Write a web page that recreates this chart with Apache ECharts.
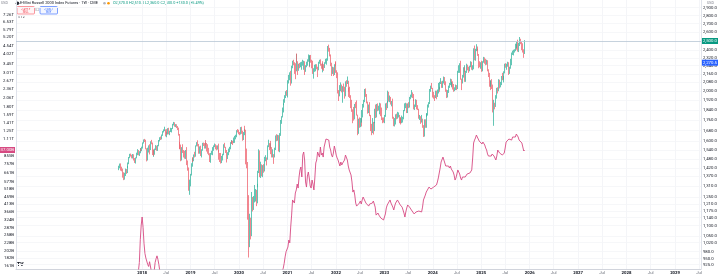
<!DOCTYPE html>
<html><head><meta charset="utf-8">
<script src="https://cdn.jsdelivr.net/npm/echarts@6/dist/echarts.min.js"></script>
<style>html,body{margin:0;padding:0;background:#fff}#c{width:720px;height:276px}</style>
</head><body><div id="c"></div>
<script>
// ---- DATA ----
// First weekly bar: week starting Monday 2017-07-10 (one bar per week, 438 bars to 2025-11-24)
const firstWeek = [2017, 6, 10];
const symbolTitle = 'E-Mini Russell 2000 Index Futures · 1W · CME';
const unitLabel = 'USD';
// weekly OHLC (RTY, USD)
const weekOpen = [
1418,1425,1435,1416,1415,1373,1357,1378,1413,1394,1429,1450,1490,1510,1502,1498,1499,1477,1468,1486,1519,1533,1516,1520,1548,
1535,1560,1590,1608,1607,1547,1478,1543,1567,1544,1599,1586,1510,1529,1513,1543,1565,1557,1572,1605,1627,1626,1647,1672,1683,1685,1643,1665,1658,1690,1664,1672,1683,1693,1725,1740,1717,1721,1707,1697,1649,1572,1569,1481,1546,1528,1527,1488,1533,1447,1411,1292,
1337,1380,1447,1482,1481,1503,1497,1569,1590,1578,1522,1560,1505,1540,1585,1581,1556,1588,1587,1565,1536,1510,1466,1514,1518,1551,1567,1575,1561,1548,1567,1533,1496,1480,1459,1495,1506,1578,1559,1524,1500,1512,1535,1558,1590,1598,1597,1591,1624,1632,1636,1678,
1677,1659,1657,1700,1662,1614,1656,1687,1679,1476,1449,1210,1014,1131,1052,1247,1223,1233,1261,1287,1218,1316,1394,1531,1387,1420,1377,1428,1404,1474,1486,1480,1568,1581,1555,1575,1537,1497,1506,1492,1547,1640,1619,1638,1538,1644,1757,1784,1856,1892,1911,1960,
1996,1975,2091,2124,2168,2073,2233,2281,2266,2201,2192,2352,2275,2221,2254,2243,2263,2265,2266,2271,2219,2235,2268,2286,2334,2238,2345,2280,2279,2163,2209,2226,2236,2213,2197,2277,2292,2249,2237,2248,2241,2233,2265,2292,2297,2437,2419,2343,2245,2163,2211,2185,2249,
2245,2180,2162,1988,1963,2003,2035,1995,2035,2010,1979,2086,2077,2091,2006,1955,1943,1864,1839,1792,1773,1887,1883,1800,1665,1765,1728,1770,1742,1806,1885,1921,2016,1957,1899,1823,1882,1798,1679,1665,1701,1683,1742,1846,1790,1882,1849,1869,1893,1797,1766,1765,
1761,1792,1887,1868,1911,1985,1918,1947,1890,1910,1773,1725,1735,1802,1788,1790,1796,1768,1757,1740,1773,1774,1831,1891,1893,1821,1889,1865,1945,1956,1981,1958,1924,1852,1869,1922,1851,1846,1776,1785,1745,1757,1707,1636,1760,1705,1797,1807,1880,1897,2010,2032,
2027,1951,1950,1947,1985,1962,2008,2032,2017,2077,2084,2039,2072,2125,2062,2004,1947,1995,2036,2060,2096,2070,2071,2023,2006,2023,2048,2026,2184,2185,2260,2109,2085,2142,2218,2219,2092,2182,2228,2225,2213,2234,2276,2208,2210,2399,2303,2406,2434,2409,2347,2243,
2241,2268,2190,2275,2307,2287,2279,2280,2195,2163,2073,2045,2057,2023,1827,1881,1880,1957,2020,2006,2103,2040,2067,2132,2109,2110,2173,2250,2234,2241,2261,2166,2218,2278,2362,2366,2391,2398,2448,2434,2476,2394,2452,2513,2479,2432,2388,2370
];
const weekHigh = [
1436,1450,1451,1430,1418,1395,1392,1418,1415,1434,1457,1493,1514,1516,1508,1513,1511,1486,1490,1522,1546,1540,1532,1553,1552,
1563,1593,1614,1618,1612,1552,1556,1572,1580,1601,1611,1592,1540,1545,1550,1574,1570,1575,1610,1630,1635,1650,1675,1688,1708,1688,1669,1690,1697,1700,1678,1700,1698,1730,1745,1742,1728,1727,1713,1701,1654,1597,1578,1560,1580,1540,1535,1540,1560,1470,1425,1350,
1385,1452,1485,1492,1510,1528,1572,1595,1608,1582,1565,1570,1545,1590,1592,1588,1593,1610,1589,1580,1555,1518,1520,1535,1560,1572,1585,1580,1572,1572,1584,1540,1520,1520,1500,1515,1580,1590,1562,1540,1525,1550,1562,1595,1610,1605,1605,1628,1640,1648,1682,1690,
1685,1668,1705,1708,1678,1668,1692,1715,1685,1550,1460,1260,1160,1140,1278,1250,1255,1318,1295,1290,1325,1404,1545,1537,1462,1445,1440,1446,1494,1505,1490,1572,1612,1588,1587,1604,1560,1545,1512,1556,1643,1652,1648,1645,1660,1760,1790,1860,1895,1930,1965,2000,
2010,2100,2150,2175,2190,2240,2290,2300,2275,2265,2360,2365,2285,2260,2268,2275,2280,2300,2290,2285,2245,2280,2305,2355,2340,2350,2350,2300,2290,2215,2250,2255,2255,2230,2280,2300,2305,2260,2265,2285,2255,2275,2310,2315,2445,2460,2425,2355,2270,2230,2225,2255,2275,
2285,2195,2175,2010,2055,2080,2060,2045,2070,2040,2090,2100,2135,2095,2030,2040,1965,1925,1845,1865,1890,1905,1920,1802,1770,1780,1775,1775,1840,1890,1925,2020,2025,1975,1910,1885,1905,1800,1730,1775,1745,1745,1850,1885,1890,1895,1875,1900,1895,1860,1780,1780,
1800,1895,1900,1915,2005,1995,1962,1950,1915,1935,1785,1775,1805,1810,1825,1820,1800,1780,1780,1795,1785,1840,1895,1900,1895,1895,1905,1950,1970,2010,1990,1975,1930,1885,1930,1925,1880,1850,1800,1790,1800,1770,1720,1765,1765,1810,1815,1885,1905,2020,2050,2075,
2030,1995,1965,2005,2005,2015,2075,2040,2085,2120,2090,2095,2135,2130,2090,2015,2010,2050,2075,2115,2110,2085,2090,2065,2035,2060,2055,2190,2245,2265,2290,2115,2150,2225,2245,2225,2190,2260,2250,2230,2240,2285,2280,2245,2420,2450,2415,2465,2440,2415,2360,2285,
2275,2290,2285,2330,2325,2310,2300,2295,2205,2170,2095,2100,2110,2060,1925,1900,1965,2030,2035,2110,2105,2085,2140,2170,2140,2185,2260,2265,2260,2280,2275,2230,2310,2375,2395,2405,2410,2470,2465,2490,2515,2480,2545,2525,2490,2475,2410,2510
];
const weekLow = [
1408,1420,1405,1401,1362,1347,1350,1372,1385,1390,1422,1446,1485,1496,1484,1483,1470,1454,1450,1484,1505,1504,1500,1518,1532,
1532,1550,1585,1596,1545,1464,1470,1523,1510,1540,1580,1506,1494,1500,1508,1540,1535,1534,1566,1600,1610,1614,1640,1665,1675,1636,1630,1650,1650,1651,1645,1668,1665,1690,1718,1708,1705,1698,1683,1642,1545,1548,1465,1470,1520,1490,1482,1480,1440,1405,1285,1262,
1310,1375,1430,1460,1465,1490,1495,1565,1565,1515,1515,1500,1490,1535,1568,1550,1550,1570,1530,1515,1505,1460,1455,1508,1505,1535,1560,1545,1538,1543,1525,1475,1460,1450,1453,1470,1505,1555,1520,1457,1480,1505,1525,1545,1585,1582,1575,1588,1590,1615,1630,1665,
1652,1645,1650,1655,1605,1610,1645,1672,1445,1420,1130,955,1000,1035,1050,1172,1180,1220,1225,1200,1215,1305,1390,1365,1360,1370,1365,1392,1400,1465,1438,1475,1560,1540,1550,1512,1490,1490,1448,1490,1540,1602,1605,1530,1525,1640,1730,1780,1820,1880,1900,1940,
1960,1945,2070,2100,2050,2070,2215,2245,2160,2110,2185,2270,2150,2190,2215,2225,2200,2240,2200,2150,2180,2225,2240,2280,2225,2235,2270,2215,2160,2115,2180,2185,2205,2130,2195,2260,2240,2210,2175,2200,2190,2218,2260,2250,2290,2385,2335,2235,2140,2160,2140,2150,2235,
2170,2120,1980,1915,1955,2000,1990,1900,1995,1935,1955,2040,2065,1995,1950,1940,1855,1825,1735,1755,1765,1855,1795,1645,1655,1700,1705,1710,1740,1780,1860,1905,1950,1895,1810,1815,1790,1675,1645,1660,1650,1675,1735,1775,1780,1830,1835,1805,1790,1760,1735,1740,
1735,1785,1840,1855,1900,1910,1905,1885,1870,1770,1712,1710,1725,1765,1770,1780,1735,1725,1735,1735,1740,1765,1830,1855,1815,1815,1855,1860,1930,1945,1940,1915,1845,1840,1865,1845,1840,1770,1760,1730,1740,1700,1632,1635,1700,1700,1785,1795,1860,1890,1995,2020,
1945,1935,1915,1940,1930,1950,1980,1995,2015,2065,2030,2030,2070,2055,1995,1940,1945,1985,2030,2055,2045,2035,2015,1995,2000,2010,2010,2020,2170,2170,2105,2010,2070,2125,2180,2085,2085,2170,2195,2170,2185,2225,2200,2195,2205,2295,2290,2390,2395,2340,2215,2225,
2210,2180,2185,2270,2260,2245,2250,2185,2130,2040,2010,2040,2020,1820,1715,1845,1865,1935,1980,2000,2025,2035,2055,2100,2080,2105,2165,2220,2200,2230,2150,2160,2210,2245,2350,2345,2375,2390,2405,2420,2385,2380,2445,2465,2400,2375,2320,2360
];
const weekClose = [
1425,1435,1416,1415,1373,1357,1378,1413,1394,1429,1450,1490,1510,1502,1498,1499,1477,1468,1486,1519,1533,1516,1520,1548,1535,
1560,1590,1608,1607,1547,1478,1543,1567,1544,1599,1586,1510,1529,1513,1543,1565,1557,1572,1605,1627,1626,1647,1672,1683,1685,1643,1665,1658,1690,1664,1672,1683,1693,1725,1740,1717,1721,1707,1697,1649,1572,1569,1481,1546,1528,1527,1488,1533,1447,1411,1292,1337,
1380,1447,1482,1481,1503,1497,1569,1590,1578,1522,1560,1505,1540,1585,1581,1556,1588,1587,1565,1536,1510,1466,1514,1518,1551,1567,1575,1561,1548,1567,1533,1496,1480,1459,1495,1506,1578,1559,1524,1500,1512,1535,1558,1590,1598,1597,1591,1624,1632,1636,1678,1677,
1659,1657,1700,1662,1614,1656,1687,1679,1476,1449,1210,1014,1131,1052,1247,1223,1233,1261,1287,1218,1316,1394,1531,1387,1420,1377,1428,1404,1474,1486,1480,1568,1581,1555,1575,1537,1497,1506,1492,1547,1640,1619,1638,1538,1644,1757,1784,1856,1892,1911,1960,1996,
1975,2091,2124,2168,2073,2233,2281,2266,2201,2192,2352,2275,2221,2254,2243,2263,2265,2266,2271,2219,2235,2268,2286,2334,2238,2345,2280,2279,2163,2209,2226,2236,2213,2197,2277,2292,2249,2237,2248,2241,2233,2265,2292,2297,2437,2419,2343,2245,2163,2211,2185,2249,2245,
2180,2162,1988,1963,2003,2035,1995,2035,2010,1979,2086,2077,2091,2006,1955,1943,1864,1839,1792,1773,1887,1883,1800,1665,1765,1728,1770,1742,1806,1885,1921,2016,1957,1899,1823,1882,1798,1679,1665,1701,1683,1742,1846,1790,1882,1849,1869,1893,1797,1766,1765,1761,
1792,1887,1868,1911,1985,1918,1947,1890,1910,1773,1725,1735,1802,1788,1790,1796,1768,1757,1740,1773,1774,1831,1891,1893,1821,1889,1865,1945,1956,1981,1958,1924,1852,1869,1922,1851,1846,1776,1785,1745,1757,1707,1636,1760,1705,1797,1807,1880,1897,2010,2032,2027,
1951,1950,1947,1985,1962,2008,2032,2017,2077,2084,2039,2072,2125,2062,2004,1947,1995,2036,2060,2096,2070,2071,2023,2006,2023,2048,2026,2184,2185,2260,2109,2085,2142,2218,2219,2092,2182,2228,2225,2213,2234,2276,2208,2210,2399,2303,2406,2434,2409,2347,2243,2241,
2268,2190,2275,2307,2287,2279,2280,2195,2163,2073,2045,2057,2023,1827,1881,1880,1957,2020,2006,2103,2040,2067,2132,2109,2110,2173,2250,2234,2241,2261,2166,2218,2278,2362,2366,2391,2398,2448,2434,2476,2394,2452,2513,2479,2432,2388,2370,2500
];
// overlay symbol (pink line, left scale), billions USD, same weeks
const overlayValue = [
40,45,44,48,58,70,72,78,70,62,62,70,72,80,95,98,118,110,135,145,140,150,170,240,300,
339,290,228,195,182,186,165,160,172,168,148,140,135,150,170,180,188,178,165,150,140,128,122,115,108,105,110,118,125,130,122,112,105,108,110,112,106,110,112,113,112,111,110,109,95,80,70,68,60,58,65,68,
65,62,63,62,62,64,68,72,70,70,71,72,73,85,90,92,93,102,115,135,140,145,138,140,148,140,135,140,120,125,120,130,125,118,115,118,115,112,95,95,98,100,110,105,98,90,85,88,90,88,83,85,
90,100,102,100,110,115,118,115,110,95,70,75,80,80,88,90,95,105,112,110,112,115,118,115,112,112,112,112,118,125,130,140,138,135,135,130,128,126,125,128,130,134,136,138,140,145,148,150,156,168,185,200,
205,215,239,229,291,349,439,452,419,488,511,559,526,622,692,724,622,868,909,805,577,534,631,671,613,543,526,594,559,511,613,769,805,909,937,842,980,868,895,842,980,1042,1107,1090,1124,1090,980,937,868,842,895,995,937,
868,830,805,769,735,781,746,769,757,805,868,855,805,735,692,713,641,577,495,511,473,419,400,389,394,419,432,413,439,459,473,452,419,407,419,400,413,419,407,419,432,413,394,349,344,360,349,339,334,344,329,324,
324,355,389,407,413,419,439,419,419,394,377,400,419,426,439,445,426,407,407,394,383,360,339,366,389,407,400,394,389,377,371,366,355,360,366,366,360,371,377,371,366,394,439,445,473,495,488,503,534,526,518,526,
526,534,543,534,551,577,613,631,713,781,805,842,830,769,735,724,757,735,713,735,702,692,671,641,594,613,651,692,692,651,613,594,622,631,641,622,631,651,671,651,661,661,692,830,1042,1090,1124,1176,1212,1141,1074,1042,
1074,1026,1058,1074,1011,966,937,882,855,842,868,855,882,895,855,830,805,855,937,923,895,909,882,868,868,895,966,1058,1090,1074,1107,1107,1124,1090,1141,1158,1176,1141,1194,1212,1141,1090,1107,1074,1042,980,923,937
];
// axis ticks
const timeTickYears = [2018,2019,2020,2021,2022,2023,2024,2025,2026,2027,2028,2029];
const priceTicks = [2900,2800,2700,2600,2400,2320,2240,2160,2080,2000,1920,1840,1760,1680,1600,1540,1480,1420,1370,1310,1250,1210,1175,1140,1100,1050,1020,980,950,925];
const overlayTicks = [7265,6533,5787,5203,4539,4020,3454,3013,2669,2364,2062,1799,1593,1411,1250,1107,855,757,661,577,518,459,413,366,324,287,258,228,202,182,161];
const priceRange = [907.5, 3000];
const overlayRange = [154, 9128];
const timeRange = [[2015, 4, 26], [2029, 6, 15]];
const refLevel = 2270.5;
const sellPrice = '2,499.9', buyPrice = '2,500.1', spread = '0.2';
const indicatorsCount = '12';

// ---- BUILD ----
const DAY = 86400000;
const t0 = Date.UTC(firstWeek[0], firstWeek[1], firstWeek[2]);
const times = weekClose.map((_, i) => t0 + i * 7 * DAY);
const candles = times.map((t, i) => [t, weekOpen[i], weekClose[i], weekLow[i], weekHigh[i]]);
const overlay = times.map((t, i) => [t, overlayValue[i]]);
const xTicks = [];
timeTickYears.forEach(y => { xTicks.push(Date.UTC(y, 0, 1)); xTicks.push(Date.UTC(y, 6, 1)); });

const fmtPrice = v => v.toLocaleString('en-US', {minimumFractionDigits: 1, maximumFractionDigits: 1});
const fmtBig = v => v >= 1000 ? (v / 1000).toFixed(2) + 'T' : Math.round(v) + 'B';
const n = weekClose.length;
const lastO = weekOpen[n-1], lastH = weekHigh[n-1], lastL = weekLow[n-1], lastC = weekClose[n-1];
const chg = lastC - lastO;
const ohlcText = 'O' + fmtPrice(lastO) + ' H' + fmtPrice(lastH) + ' L' + fmtPrice(lastL) + ' C' + fmtPrice(lastC) +
  ' +' + fmtPrice(chg) + ' (+' + (chg / lastO * 100).toFixed(2) + '%)';
const lastOverlay = overlayValue[overlayValue.length - 1];

const FONT = 'Roboto, "Noto Sans", sans-serif';
const UP = '#30b39c', DOWN = '#ee5f6b', PINK = '#d74a82';
const HIDDEN = 'rgba(0,0,0,0)';
const small = 4.3;

const chart = echarts.init(document.getElementById('c'));
chart.setOption({
  animation: false,
  backgroundColor: '#ffffff',
  textStyle: {fontFamily: FONT},
  grid: {left: 16, right: 14, top: 0, bottom: 7, containLabel: false},
  xAxis: {
    type: 'value', scale: true,
    min: Date.UTC.apply(null, timeRange[0]), max: Date.UTC.apply(null, timeRange[1]),
    axisLine: {show: true, lineStyle: {color: '#d1d4dc', width: 1}},
    axisTick: {show: false, customValues: xTicks},
    splitLine: {show: true, lineStyle: {color: '#f4f5f8', width: 1}},
    axisLabel: {
      customValues: xTicks, margin: 2, fontSize: small, color: '#6a6d78', fontFamily: FONT,
      formatter: v => { const d = new Date(v); return d.getUTCMonth() === 0 ? '{y|' + d.getUTCFullYear() + '}' : 'Jul'; },
      rich: {y: {fontSize: small, fontWeight: 'bold', color: '#131722', fontFamily: FONT}}
    }
  },
  yAxis: [
    {
      type: 'log', position: 'right', min: priceRange[0], max: priceRange[1],
      axisLine: {show: true, lineStyle: {color: '#e0e3eb'}},
      axisTick: {show: false, customValues: priceTicks},
      splitLine: {show: true, lineStyle: {color: '#f6f7f9', width: 1}},
      axisLabel: {customValues: priceTicks, formatter: v => fmtPrice(v), fontSize: small, color: '#131722', margin: 2, fontFamily: FONT}
    },
    {
      type: 'log', position: 'left', min: overlayRange[0], max: overlayRange[1],
      axisLine: {show: true, lineStyle: {color: '#e0e3eb'}},
      axisTick: {show: false, customValues: overlayTicks},
      splitLine: {show: false},
      axisLabel: {customValues: overlayTicks, formatter: v => fmtBig(v), fontSize: small, color: '#131722', margin: 2, fontFamily: FONT}
    }
  ],
  series: [
    {
      type: 'line', name: 'overlay', yAxisIndex: 1, data: overlay, showSymbol: false, symbol: 'none',
      lineStyle: {color: PINK, width: 0.9}, z: 2, clip: true,
      markLine: {
        symbol: 'none', silent: true, animation: false,
        data: [{yAxis: lastOverlay, lineStyle: {color: HIDDEN, width: 0.5},
          label: {show: true, position: 'start', distance: 1, formatter: () => fmtBig(lastOverlay).replace('B', '.00B'), backgroundColor: PINK, color: '#fff', fontSize: small, padding: [1, 1], fontFamily: FONT}}]
      }
    },
    {
      type: 'candlestick', name: 'RTY', yAxisIndex: 0, data: candles, barWidth: 0.7,
      itemStyle: {color: UP, color0: DOWN, borderColor: UP, borderColor0: DOWN, borderWidth: 0.75},
      z: 3,
      markLine: {
        symbol: 'none', silent: true, animation: false,
        data: [
          {yAxis: lastC, lineStyle: {color: '#b8c7d4', width: 0.8, type: 'solid'},
            label: {position: 'end', distance: 1, formatter: () => fmtPrice(lastC), backgroundColor: '#089981', color: '#fff', fontSize: small, padding: [1, 1], fontFamily: FONT}},
          {yAxis: refLevel, lineStyle: {color: HIDDEN, width: 0.5},
            label: {show: true, position: 'end', distance: 1, formatter: () => fmtPrice(refLevel), backgroundColor: '#2962ff', color: '#fff', fontSize: small, padding: [1, 1], fontFamily: FONT}}
        ]
      }
    }
  ],
  graphic: [
    {type: 'text', left: 1, top: 1, style: {text: unitLabel, fontSize: 3.6, fill: '#787b86', fontFamily: FONT}},
    {type: 'text', left: 707, top: 1, style: {text: unitLabel, fontSize: 3.6, fill: '#787b86', fontFamily: FONT}},
    {type: 'circle', shape: {cx: 17.5, cy: 3.2, r: 1.8}, style: {fill: '#2a2e39'}},
    {type: 'text', left: 20, top: 1, style: {text: symbolTitle, fontSize: 3.9, fill: '#131722', fontFamily: FONT}},
    {type: 'circle', shape: {cx: 104.5, cy: 3.2, r: 1.3}, style: {fill: '#b2b5be'}},
    {type: 'circle', shape: {cx: 108.5, cy: 3.2, r: 1.3}, style: {fill: '#ff9800'}},
    {type: 'text', left: 113, top: 1.2, style: {text: ohlcText, fontSize: 3.8, fill: '#089981', fontFamily: FONT}},
    {type: 'rect', shape: {x: 17, y: 6.5, width: 17.5, height: 7.5, r: 1}, style: {fill: '#fff5f6', stroke: '#f7525f', lineWidth: 0.6}},
    {type: 'text', x: 25.75, y: 7.3, style: {text: sellPrice + '\nSELL', fontSize: 2.7, lineHeight: 3.2, fill: '#f23645', align: 'center', fontFamily: FONT}},
    {type: 'text', x: 37.2, y: 8.6, style: {text: spread, fontSize: 2.8, fill: '#787b86', align: 'center', fontFamily: FONT}},
    {type: 'rect', shape: {x: 40, y: 6.5, width: 17.5, height: 7.5, r: 1}, style: {fill: '#f3f6ff', stroke: '#2962ff', lineWidth: 0.6}},
    {type: 'text', x: 48.75, y: 7.3, style: {text: buyPrice + '\nBUY', fontSize: 2.7, lineHeight: 3.2, fill: '#2962ff', align: 'center', fontFamily: FONT}},
    {type: 'text', left: 18, top: 15.5, style: {text: '∨ ' + indicatorsCount, fontSize: 3.4, fill: '#131722', fontFamily: FONT}},
    {type: 'text', left: 17, top: 262.5, style: {text: 'TV', fontSize: 5, fontWeight: 900, fill: '#131722', fontFamily: FONT}}
  ]
});
</script>
</body></html>
